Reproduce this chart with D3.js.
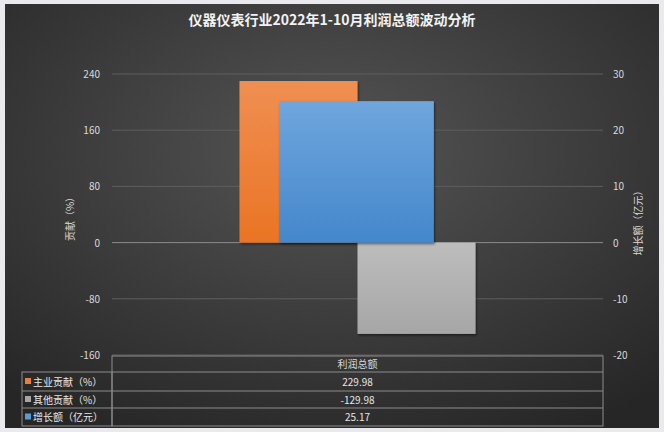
<!DOCTYPE html>
<html>
<head>
<meta charset="utf-8">
<script src="https://cdn.jsdelivr.net/npm/d3@7"></script>
<style>
  body { margin: 0; background: #e9e9ee; }
  svg { display: block; font-family: 'Noto Sans CJK SC', 'Noto Sans', sans-serif; }
</style>
</head>
<body>
<div id="chart"></div>
<script>
const title = '仪器仪表行业2022年1-10月利润总额波动分析';
const categories = ['利润总额'];
const seriesNames = ['主业贡献（%）', '其他贡献（%）', '增长额（亿元）'];
const mainValues = [229.98]; // 主业贡献
const otherValues = [-129.98]; // 其他贡献
const growthValues = [25.17]; // 增长额
const leftTicks = [240, 160, 80, 0, -80, -160];
const rightTicks = [30, 20, 10, 0, -10, -20];

const size = { width: 664, height: 432 };
const margin = { left: 112, right: 61, top: 74, bottom: 77 };

const svg = d3.select('#chart').append('svg')
  .attr('width', size.width).attr('height', size.height);

const defs = svg.append('defs');
const bg = defs.append('radialGradient').attr('id', 'bg')
  .attr('cx', '50%').attr('cy', '35%').attr('r', '75%');
bg.append('stop').attr('offset', '0%').attr('stop-color', '#555555');
bg.append('stop').attr('offset', '100%').attr('stop-color', '#262626');

const grad = (id, top, bottom) => {
  const g = defs.append('linearGradient').attr('id', id)
    .attr('x1', 0).attr('x2', 0).attr('y1', 0).attr('y2', 1);
  g.append('stop').attr('offset', '0%').attr('stop-color', top);
  g.append('stop').attr('offset', '100%').attr('stop-color', bottom);
};
grad('g0', '#f08f52', '#ea7424');
grad('g1', '#bdbdbd', '#a6a6a6');
grad('g2', '#6fa6dd', '#4487cc');
const colors = ['#ed7d31', '#a5a5a5', '#5b9bd5'];

defs.append('filter').attr('id', 'shadow')
  .append('feDropShadow').attr('dx', 1).attr('dy', 1.5)
  .attr('stdDeviation', 1.2).attr('flood-color', '#000').attr('flood-opacity', 0.5);

// chart area
svg.append('rect').attr('x', 5).attr('y', 4).attr('width', size.width - 10)
  .attr('height', size.height - 8).attr('fill', 'url(#bg)');

svg.append('text').attr('x', size.width / 2).attr('y', 25)
  .attr('text-anchor', 'middle').attr('fill', '#f2f2f2')
  .style('font-size', '14px').style('font-weight', 'bold').text(title);

const y = d3.scaleLinear().domain([-160, 240])
  .range([size.height - margin.bottom, margin.top]);
const y2 = d3.scaleLinear().domain([-20, 30]).range(y.range());
const x = d3.scaleBand().domain(categories)
  .range([margin.left, size.width - margin.right]);
const xs = d3.scaleBand().domain([0, 1]).range([0, x.bandwidth()])
  .paddingOuter(1.08);

// grid lines
svg.append('g').selectAll('line').data(leftTicks).join('line')
  .attr('x1', margin.left).attr('x2', size.width - margin.right)
  .attr('y1', (d) => y(d)).attr('y2', (d) => y(d))
  .attr('stroke', (d) => (d === 0 ? '#8a8a8a' : '#5e5e5e'))
  .attr('stroke-width', 1);

// axis labels
svg.append('g').selectAll('text').data(leftTicks).join('text')
  .attr('x', 100).attr('y', (d) => y(d) + 4)
  .attr('text-anchor', 'end').attr('fill', '#d9d9d9')
  .style('font-size', '10px').text((d) => d);

svg.append('g').selectAll('text').data(rightTicks).join('text')
  .attr('x', 613).attr('y', (d) => y2(d) + 4)
  .attr('text-anchor', 'start').attr('fill', '#d9d9d9')
  .style('font-size', '10px').text((d) => d);

const midY = (margin.top + size.height - margin.bottom) / 2;
svg.append('text').attr('transform', `translate(74,${midY + 2}) rotate(-90)`)
  .attr('text-anchor', 'middle').attr('fill', '#d9d9d9')
  .style('font-size', '10px').text('贡献（%）');
svg.append('text').attr('transform', `translate(642,${midY + 6}) rotate(-90)`)
  .attr('text-anchor', 'middle').attr('fill', '#d9d9d9')
  .style('font-size', '10px').text('增长额（亿元）');

// bars, primary axis
const primary = [mainValues, otherValues];
primary.forEach((vals, s) => {
  svg.append('g').selectAll('rect').data(vals).join('rect')
    .attr('x', (d, i) => x(categories[i]) + xs(s))
    .attr('width', xs.bandwidth())
    .attr('y', (d) => y(Math.max(0, d)))
    .attr('height', (d) => Math.abs(y(d) - y(0)))
    .attr('fill', `url(#g${s})`)
    .attr('filter', 'url(#shadow)');
});

// bars, secondary axis
const blueW = x.bandwidth() * 0.315;
svg.append('g').selectAll('rect').data(growthValues).join('rect')
  .attr('x', (d, i) => x(categories[i]) + x.bandwidth() / 2 - blueW / 2 - 1)
  .attr('width', blueW)
  .attr('y', (d) => y2(Math.max(0, d)))
  .attr('height', (d) => Math.abs(y2(d) - y2(0)))
  .attr('fill', 'url(#g2)')
  .attr('filter', 'url(#shadow)');

// data table
const tableTop = 356;
const rowH = [16, 19, 17, 18];
const rowY = [tableTop];
rowH.forEach((h) => rowY.push(rowY[rowY.length - 1] + h));
const tLeft = 22;
const tMid = margin.left;
const tRight = size.width - margin.right;
const table = svg.append('g').attr('stroke', '#8c8c8c').attr('stroke-width', 1).attr('fill', 'none');

table.append('rect').attr('x', tMid).attr('y', rowY[0])
  .attr('width', tRight - tMid).attr('height', rowY[4] - rowY[0]);
table.append('rect').attr('x', tLeft).attr('y', rowY[1])
  .attr('width', tMid - tLeft).attr('height', rowY[4] - rowY[1]);
[2, 3].forEach((r) => {
  table.append('line').attr('x1', tLeft).attr('x2', tRight)
    .attr('y1', rowY[r]).attr('y2', rowY[r]);
});
table.append('line').attr('x1', tMid).attr('x2', tRight)
  .attr('y1', rowY[1]).attr('y2', rowY[1]);

svg.append('text').attr('x', (tMid + tRight) / 2).attr('y', rowY[0] + 12)
  .attr('text-anchor', 'middle').attr('fill', '#d9d9d9')
  .style('font-size', '10px').text(categories[0]);

const tableVals = [mainValues[0], otherValues[0], growthValues[0]];
seriesNames.forEach((name, i) => {
  const cy = (rowY[i + 1] + rowY[i + 2]) / 2;
  svg.append('rect').attr('x', tLeft + 3).attr('y', cy - 3.5)
    .attr('width', 6).attr('height', 6).attr('fill', colors[i]);
  svg.append('text').attr('x', tLeft + 11).attr('y', cy + 4)
    .attr('fill', '#e6e6e6').style('font-size', '10px').text(name);
  svg.append('text').attr('x', (tMid + tRight) / 2).attr('y', cy + 4)
    .attr('text-anchor', 'middle').attr('fill', '#e6e6e6')
    .style('font-size', '10px').text(tableVals[i].toFixed(2));
});
</script>
</body>
</html>
